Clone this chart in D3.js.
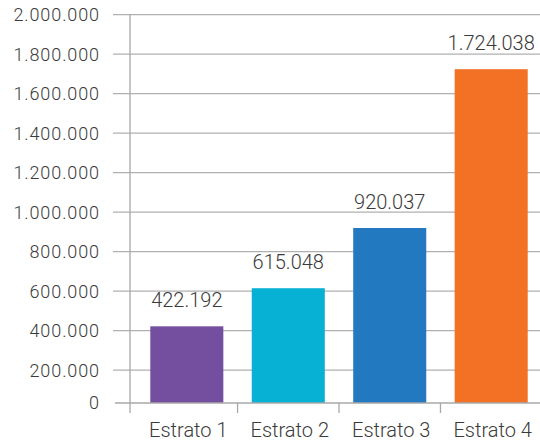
<!DOCTYPE html>
<html lang="es">
<head>
<meta charset="UTF-8" />
<title>Estratos</title>
<style>
  body { margin: 0; background: #fff; }
  text { font-family: Roboto, "Noto Sans", sans-serif; font-weight: 300; fill: #3a3a3a; }
</style>
</head>
<body>
<script src="https://cdn.jsdelivr.net/npm/d3@7"></script>
<div id="app"></div>
<script>
// Datos
const categorias = ["Estrato 1", "Estrato 2", "Estrato 3", "Estrato 4"];
const valores = [422192, 615048, 920037, 1724038];
const colores = ["#744f9f", "#06b1d3", "#2279c0", "#f37124"];
const ticksY = [0, 200000, 400000, 600000, 800000, 1000000, 1200000, 1400000, 1600000, 1800000, 2000000];

const w = 540, h = 443;
const ejeX = 130;      // linea vertical del eje
const base = 403;      // linea de base
const svg = d3.select("#app").append("svg")
  .attr("width", w).attr("height", h);

const fmt = d3.formatLocale({ decimal: ",", thousands: ".", grouping: [3], currency: ["$", ""] }).format(",d");

const y = d3.scaleLinear().domain([0, 2000000]).range([409.7, 14.7]);
const x = d3.scaleBand().domain(categorias).range([ejeX, 548])
  .paddingInner(0.28).paddingOuter(0.2);

// Grid
svg.selectAll("line.grid")
  .data(ticksY.filter(d => d > 0))
  .enter().append("line")
  .attr("class", "grid")
  .attr("x1", 113).attr("x2", w)
  .attr("y1", d => y(d)).attr("y2", d => y(d))
  .attr("stroke", "#b0b0b0").attr("stroke-width", 1.3);

// Etiquetas eje Y
svg.selectAll("text.ytick")
  .data(ticksY)
  .enter().append("text")
  .attr("class", "ytick")
  .attr("x", 100)
  .attr("y", d => d === 0 ? base : y(d))
  .attr("dy", "0.36em")
  .attr("text-anchor", "end")
  .style("font-size", "18px")
  .style("letter-spacing", "0.9px")
  .text(d => fmt(d));

// Barras
svg.selectAll("rect")
  .data(valores)
  .enter().append("rect")
  .attr("x", (d, i) => x(categorias[i]))
  .attr("y", d => y(d))
  .attr("width", x.bandwidth())
  .attr("height", d => base - y(d))
  .attr("fill", (d, i) => colores[i]);

// Valores
svg.selectAll("text.valor")
  .data(valores)
  .enter().append("text")
  .attr("class", "valor")
  .attr("x", (d, i) => x(categorias[i]) + x.bandwidth() / 2)
  .attr("y", d => y(d) - 19)
  .attr("text-anchor", "middle")
  .style("font-size", "20px")
  .text(d => fmt(d));

// Ejes
svg.append("line")
  .attr("x1", 115).attr("x2", w)
  .attr("y1", base).attr("y2", base)
  .attr("stroke", "#a8a8a8").attr("stroke-width", 1.3);
svg.append("line")
  .attr("x1", ejeX).attr("x2", ejeX)
  .attr("y1", y(2000000)).attr("y2", 413)
  .attr("stroke", "#a8a8a8").attr("stroke-width", 1.3);

// Separadores de categorias
const paso = x.step();
svg.selectAll("line.sep")
  .data(categorias.slice(1))
  .enter().append("line")
  .attr("class", "sep")
  .attr("x1", d => x(d) - paso * x.paddingInner() / 2)
  .attr("x2", d => x(d) - paso * x.paddingInner() / 2)
  .attr("y1", base).attr("y2", 413)
  .attr("stroke", "#a8a8a8").attr("stroke-width", 1.3);

// Categorias
svg.selectAll("text.cat")
  .data(categorias)
  .enter().append("text")
  .attr("class", "cat")
  .attr("x", d => x(d) + x.bandwidth() / 2 + 1.5)
  .attr("y", 437)
  .attr("text-anchor", "middle")
  .style("font-size", "20px")
  .text(d => d);
</script>
</body>
</html>
